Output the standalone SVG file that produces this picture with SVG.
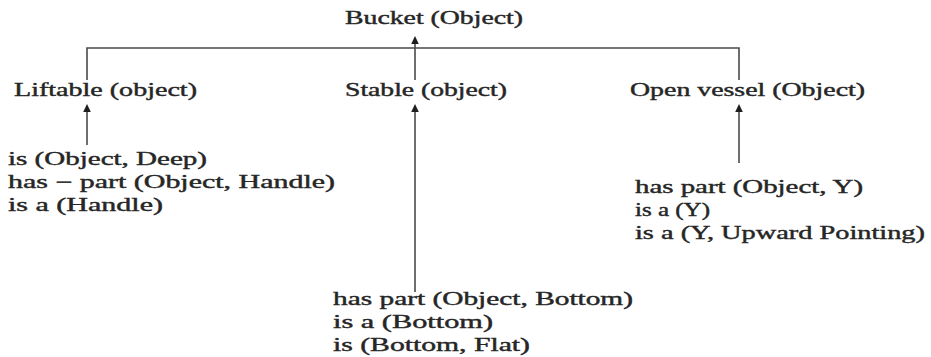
<svg xmlns="http://www.w3.org/2000/svg" width="931" height="357" viewBox="0 0 931 357">
  <defs>
    <style>
      .lbl { font-family: "Liberation Serif", "Times New Roman", serif; font-size: 18px; fill: #262626; stroke: #262626; stroke-width: 0.4; }
      .wire { stroke: #4a4a4a; stroke-width: 1.6; fill: none; }
    </style>
    <marker id="head" markerUnits="userSpaceOnUse" markerWidth="10" markerHeight="10" viewBox="0 -5 10 10" refX="0" refY="0" orient="auto">
      <path d="M0,-3.8 L8,0 L0,3.8 z" fill="#1e1e1e"/>
    </marker>
  </defs>
  <rect width="931" height="357" fill="#ffffff"/>

  <!-- connectors -->
  <g id="connectors">
    <!-- bracket joining the three properties -->
    <path class="wire" d="M87,80 V48 H739 V80"/>
    <!-- up to Bucket -->
    <line class="wire" x1="415" y1="80" x2="415" y2="44" marker-end="url(#head)"/>
    <!-- facts up to each property -->
    <line class="wire" x1="87" y1="145" x2="87" y2="112" marker-end="url(#head)"/>
    <line class="wire" x1="415" y1="292" x2="415" y2="112" marker-end="url(#head)"/>
    <line class="wire" x1="739" y1="163" x2="739" y2="112" marker-end="url(#head)"/>
  </g>

  <g id="bucket">
    <text class="lbl" x="345" y="24" textLength="178" lengthAdjust="spacingAndGlyphs">Bucket (Object)</text>
  </g>
  <g id="liftable">
    <text class="lbl" x="14" y="96" textLength="183" lengthAdjust="spacingAndGlyphs">Liftable (object)</text>
  </g>
  <g id="stable">
    <text class="lbl" x="345" y="96" textLength="162" lengthAdjust="spacingAndGlyphs">Stable (object)</text>
  </g>
  <g id="open-vessel">
    <text class="lbl" x="630" y="96" textLength="235" lengthAdjust="spacingAndGlyphs">Open vessel (Object)</text>
  </g>

  <g id="liftable-facts">
    <text class="lbl" x="8" y="165" textLength="199" lengthAdjust="spacingAndGlyphs">is (Object, Deep)</text>
    <text class="lbl" x="8" y="188" textLength="327" lengthAdjust="spacingAndGlyphs">has − part (Object, Handle)</text>
    <text class="lbl" x="8" y="211" textLength="155" lengthAdjust="spacingAndGlyphs">is a (Handle)</text>
  </g>
  <g id="open-vessel-facts">
    <text class="lbl" x="635" y="193" textLength="228" lengthAdjust="spacingAndGlyphs">has part (Object, Y)</text>
    <text class="lbl" x="635" y="216" textLength="75" lengthAdjust="spacingAndGlyphs">is a (Y)</text>
    <text class="lbl" x="635" y="239" textLength="290" lengthAdjust="spacingAndGlyphs">is a (Y, Upward Pointing)</text>
  </g>
  <g id="stable-facts">
    <text class="lbl" x="333" y="305" textLength="300" lengthAdjust="spacingAndGlyphs">has part (Object, Bottom)</text>
    <text class="lbl" x="333" y="328" textLength="160" lengthAdjust="spacingAndGlyphs">is a (Bottom)</text>
    <text class="lbl" x="333" y="351" textLength="197" lengthAdjust="spacingAndGlyphs">is (Bottom, Flat)</text>
  </g>
</svg>
